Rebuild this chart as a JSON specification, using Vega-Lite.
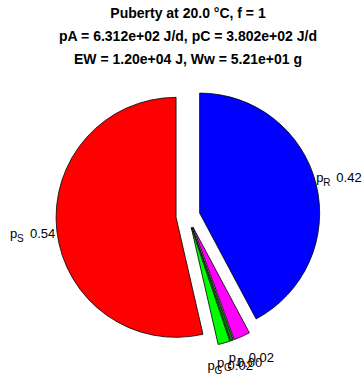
{
  "$schema": "https://vega.github.io/schema/vega-lite/v6.json",
  "width": 240,
  "height": 240,
  "autosize": {"type": "none"},
  "padding": {"left": 68, "top": 96, "right": 54, "bottom": 38},
  "background": "white",
  "config": {"view": {"stroke": null}},
  "title": {
    "text": [
      "Puberty at 20.0 °C, f = 1",
      "pA = 6.312e+02 J/d,  pC = 3.802e+02 J/d",
      "EW = 1.20e+04 J, Ww = 5.21e+01 g"
    ],
    "font": "Liberation Sans",
    "fontSize": 14,
    "fontWeight": "bold",
    "lineHeight": 23,
    "anchor": "middle",
    "offset": 24,
    "color": "#000000"
  },
  "data": {
    "values": [
      {"k": 1, "flux": "pR", "sub": "R", "share": 0.422},
      {"k": 2, "flux": "pJ", "sub": "J", "share": 0.022},
      {"k": 3, "flux": "pGov", "sub": "G", "share": 0.004},
      {"k": 4, "flux": "pG", "sub": "G", "share": 0.016},
      {"k": 5, "flux": "pS", "sub": "S", "share": 0.536}
    ]
  },
  "transform": [
    {"window": [{"op": "sum", "field": "share", "as": "end"}], "sort": [{"field": "k"}], "frame": [null, 0]},
    {"calculate": "datum.end - datum.share", "as": "start"},
    {"calculate": "PI * (datum.start + datum.end)", "as": "mid"},
    {"calculate": "0.1 * sin(datum.mid)", "as": "dx"},
    {"calculate": "0.1 * cos(datum.mid)", "as": "dy"},
    {"calculate": "1.3 * sin(datum.mid)", "as": "lx"},
    {"calculate": "1.3 * cos(datum.mid)", "as": "ly"}
  ],
  "layer": [
    {
      "mark": {"type": "arc", "radius": 120, "stroke": "#000000", "strokeWidth": 0.8},
      "encoding": {
        "theta": {"field": "start", "type": "quantitative", "scale": {"domain": [0, 1]}, "stack": null},
        "theta2": {"field": "end"},
        "x": {"field": "dx", "type": "quantitative", "scale": {"domain": [-1, 1], "nice": false, "zero": false}, "axis": null, "stack": null},
        "y": {"field": "dy", "type": "quantitative", "scale": {"domain": [-1, 1], "nice": false, "zero": false}, "axis": null, "stack": null},
        "color": {
          "field": "flux",
          "type": "nominal",
          "scale": {"domain": ["pR", "pJ", "pGov", "pG", "pS"], "range": ["#0000ff", "#ff00ff", "#008000", "#00ff00", "#ff0000"]},
          "legend": null
        }
      }
    },
    {
      "mark": {"type": "text", "text": "p", "align": "left", "baseline": "middle", "dx": -23, "font": "Liberation Sans", "fontSize": 13, "color": "#000000"},
      "encoding": {
        "x": {"field": "lx", "type": "quantitative"},
        "y": {"field": "ly", "type": "quantitative"}
      }
    },
    {
      "mark": {"type": "text", "align": "left", "baseline": "middle", "dx": -16, "dy": 5, "font": "Liberation Sans", "fontSize": 10, "color": "#000000"},
      "encoding": {
        "x": {"field": "lx", "type": "quantitative"},
        "y": {"field": "ly", "type": "quantitative"},
        "text": {"field": "sub"}
      }
    },
    {
      "mark": {"type": "text", "align": "left", "baseline": "middle", "dx": -3, "font": "Liberation Sans", "fontSize": 13, "color": "#000000"},
      "encoding": {
        "x": {"field": "lx", "type": "quantitative"},
        "y": {"field": "ly", "type": "quantitative"},
        "text": {"field": "share", "format": ".2f"}
      }
    }
  ]
}
